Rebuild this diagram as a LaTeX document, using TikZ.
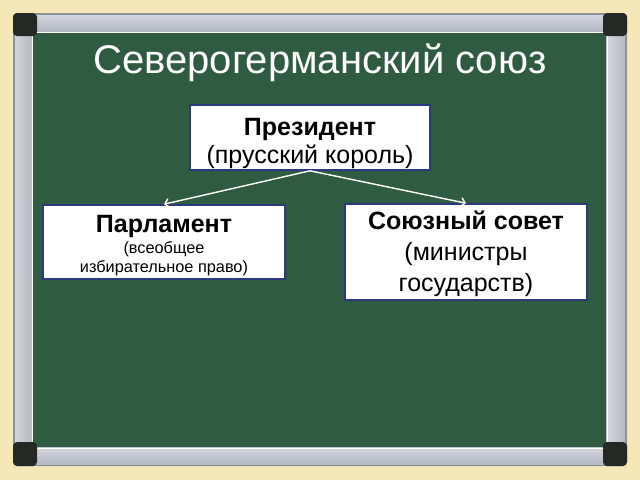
\documentclass[tikz,border=0pt]{standalone}
\usepackage{fontspec}
\setmainfont{Liberation Sans}
\usetikzlibrary{arrows.meta}
\definecolor{cream}{HTML}{F4E8B8}
\definecolor{board}{HTML}{2F5B40}
\definecolor{alu}{HTML}{BEC2CC}
\definecolor{aludark}{HTML}{8E929C}
\definecolor{corner}{HTML}{262826}
\definecolor{navy}{HTML}{2B3A7C}
\tikzset{
  box/.style={draw=navy, line width=1.6pt, fill=white, inner sep=0pt},
  txt/.style={anchor=base, inner sep=0pt, text=black},
  bigf/.style={font=\fontsize{25}{30}\selectfont},
  bigb/.style={font=\bfseries\fontsize{25}{30}\selectfont},
  smallf/.style={font=\fontsize{16.3}{19}\selectfont},
  arr/.style={draw=white, line width=1.4pt, -{Straight Barb[length=4pt,width=9pt]}},
}
\begin{document}
\begin{tikzpicture}[x=1pt,y=-1pt]
\useasboundingbox (0,0) rectangle (640,480);
\fill[cream] (0,0) rectangle (640,480);
% frame
\fill[aludark, rounded corners=4pt] (13,13) rectangle (627,466);
\fill[alu] (15,15) rectangle (625,464);
\fill[top color=alu!70!white, bottom color=alu!95!black] (15,15) rectangle (625,31);
\fill[top color=alu!70!white, bottom color=alu!95!black] (15,449) rectangle (625,464);
\fill[left color=alu!70!white, right color=alu!95!black] (15,15) rectangle (31,464);
\fill[left color=alu!70!white, right color=alu!95!black] (608,15) rectangle (625,464);
\draw[white, line width=1pt] (33,32) -- (605,32);
\draw[white, line width=1pt] (32,33) -- (32,447);
\draw[white, line width=1pt] (33,448.5) -- (605,448.5);
\draw[white, line width=1pt] (607,33) -- (607,447);
\fill[board] (33,33) rectangle (606,447);
% corners
\fill[corner, rounded corners=4pt] (13,13) rectangle (37,36);
\fill[corner, rounded corners=4pt] (603,13) rectangle (627,36);
\fill[corner, rounded corners=4pt] (13,442) rectangle (37,466);
\fill[corner, rounded corners=4pt] (603,442) rectangle (627,466);
% title
\node[text=white, font=\fontsize{40}{48}\selectfont] (title) at (320,63) {Северогерманский союз};
% boxes
\node[box, minimum width=240pt, minimum height=65pt] (pres) at (310,137.5) {};
\node[box, minimum width=242pt, minimum height=74pt] (parl) at (164,242) {};
\node[box, minimum width=242pt, minimum height=96pt] (coun) at (466,252) {};
% texts
\node[txt, bigb] (pres1) at (310,135) {Президент};
\node[txt, bigf] (pres2) at (310,163) {(прусский король)};
\node[txt, bigb] (parl1) at (164,232) {Парламент};
\node[txt, smallf] (parl2) at (164,253) {(всеобщее};
\node[txt, smallf] (parl3) at (164,272) {избирательное право)};
\node[txt, bigb] (coun1) at (466,229) {Союзный совет};
\node[txt, bigf] (coun2) at (466,260) {(министры};
\node[txt, bigf] (coun3) at (466,291) {государств)};
% arrows
\draw[arr] (pres.south) -- (parl.north);
\draw[arr] (pres.south) -- (coun.north);
\end{tikzpicture}
\end{document}
